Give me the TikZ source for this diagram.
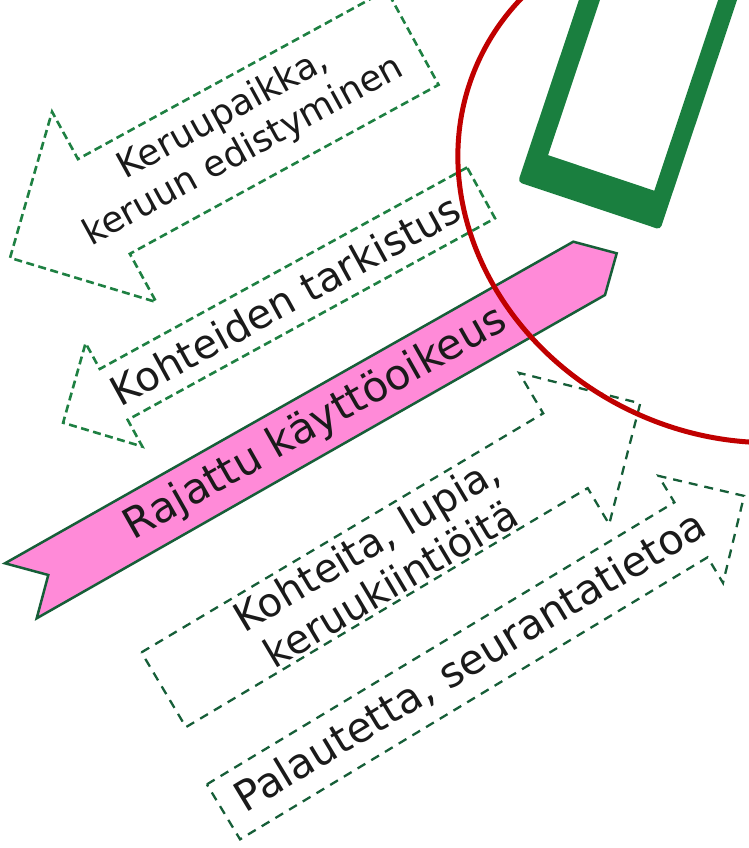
\documentclass[tikz,border=0pt]{standalone}
\usepackage{fontspec}
\setmainfont{DejaVu Sans}
\usepackage{xcolor}
\usepackage{tikz}
\usetikzlibrary{calc}

\definecolor{dashgreen}{RGB}{30,128,66}
\definecolor{darkdash}{RGB}{22,94,56}
\definecolor{framegreen}{RGB}{26,127,63}
\definecolor{bannerpink}{RGB}{255,138,216}
\definecolor{bannerline}{RGB}{22,94,56}
\definecolor{ellred}{RGB}{192,0,0}
\definecolor{ink}{RGB}{26,26,26}

\begin{document}
\begin{tikzpicture}[x=1pt,y=-1pt,
  flowin/.style={draw=dashgreen,line width=2.6pt,dash pattern=on 8pt off 4.5pt},
  flowout/.style={draw=darkdash,line width=2.3pt,dash pattern=on 9pt off 7pt},
  arrowtext/.style={text=ink,align=center,inner sep=0pt}]
\useasboundingbox (0,0) rectangle (749,848);
\clip (0,0) rectangle (749,848);

% incoming arrows
\begin{scope}[rotate=28.7]
\draw[flowin] (344,177) -- (-8,177) -- (-8,123) -- (-115,231) -- (-8,340) -- (-8,285) -- (344,285) -- cycle;
\node[arrowtext,rotate=28.7,font=\fontsize{36}{42}\selectfont] (progress) at (141,229) {Keruupaikka,\\keruun edistyminen};
\end{scope}
\begin{scope}[rotate=28.75]
\draw[flowin] (329,371.5) -- (-90,371.5) -- (-90,342) -- (-148,401) -- (-90,460) -- (-90,429.5) -- (329,429.5) -- cycle;
\node[arrowtext,rotate=28.75,font=\fontsize{40.5}{47}\selectfont] (check) at (106,400) {Kohteiden tarkistus};
\end{scope}

% banner
\filldraw[fill=bannerpink,draw=bannerline,line width=2.5pt] (5,563.3) -- (573.3,241.7) -- (616.7,253.3) -- (605,295) -- (36.7,618.3) -- (48.3,575) -- cycle;
\node[arrowtext,rotate=29.5,font=\fontsize{42}{48}\selectfont] (access) at (316,424) {Rajattu käyttöoikeus};

% outgoing arrows
\begin{scope}[rotate=30.75]
\draw[flowout] (-212,633) -- (255.5,633) -- (255.5,586) -- (344,674) -- (255.5,762) -- (255.5,720) -- (-212,720) -- cycle;
\node[arrowtext,rotate=30.75,font=\fontsize{40}{46}\selectfont] (permits) at (37,678) {Kohteita, lupia,\\keruukiintiöitä};
\end{scope}
\begin{scope}[rotate=31.1]
\draw[flowout] (-228,778.5) -- (318,778.5) -- (318,747.6) -- (381,809) -- (318,872.6) -- (318,842.7) -- (-228,842.7) -- cycle;
\node[arrowtext,rotate=31.1,font=\fontsize{41.5}{48}\selectfont] (feedback) at (61,810) {Palautetta, seurantatietoa};
\end{scope}

% device frame
\begin{scope}[shift={(518,182)},rotate=-18.5]
\fill[framegreen,even odd rule] [rounded corners=4pt] (0,0) -- (150,0) -- (150,-260) -- (0,-260) -- cycle
  [sharp corners] (20,-35) -- (132,-35) -- (132,-255) -- (20,-255) -- cycle;
\end{scope}

\draw[ellred,line width=5pt,rotate around={-25:(741,182)}] (741,182) ellipse [x radius=289,y radius=254];
\end{tikzpicture}
\end{document}
